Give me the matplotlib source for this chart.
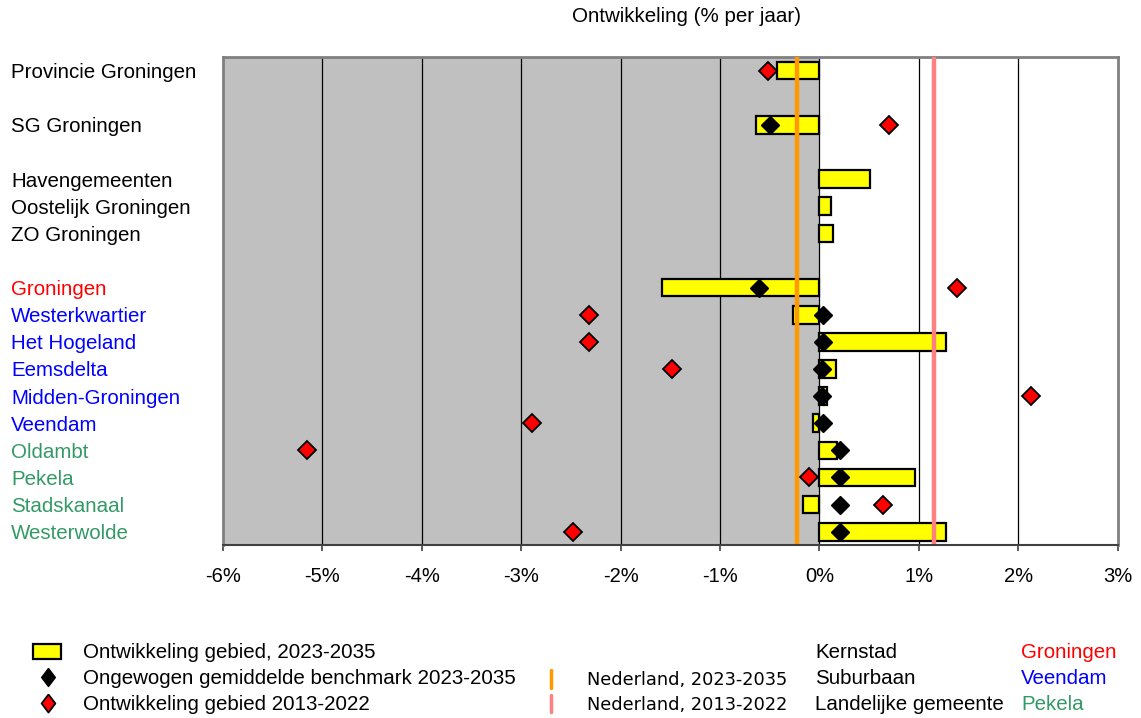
import matplotlib
matplotlib.use('Agg')
import matplotlib.pyplot as plt
import numpy as np
from matplotlib.patches import Rectangle

plt.rcParams['font.family'] = ['Liberation Sans', 'DejaVu Sans']

nan = np.nan
categories = ['Provincie Groningen', '', 'SG Groningen', '', 'Havengemeenten',
              'Oostelijk Groningen', 'ZO Groningen', '', 'Groningen', 'Westerkwartier',
              'Het Hogeland', 'Eemsdelta', 'Midden-Groningen', 'Veendam', 'Oldambt',
              'Pekela', 'Stadskanaal', 'Westerwolde']
category_type = ['total', 'total', 'total', 'total', 'total', 'total', 'total', 'total',
                 'kern', 'sub', 'sub', 'sub', 'sub', 'sub', 'land', 'land', 'land', 'land']
ontw_2023_2035 = [-0.43, nan, -0.64, nan, 0.51, 0.12, 0.14, nan, -1.58, -0.27,
                  1.27, 0.17, 0.08, -0.06, 0.18, 0.96, -0.17, 1.27]
benchmark_2023_2035 = [nan, nan, -0.50, nan, nan, nan, nan, nan, -0.61, 0.04,
                       0.04, 0.03, 0.03, 0.04, 0.21, 0.21, 0.21, 0.21]
ontw_2013_2022 = [-0.52, nan, 0.70, nan, nan, nan, nan, nan, 1.385, -2.32,
                  -2.32, -1.48, 2.13, -2.89, -5.15, -0.10, 0.64, -2.48]
nl_2023_2035 = -0.23
nl_2013_2022 = 1.15
xticks = [-6, -5, -4, -3, -2, -1, 0, 1, 2, 3]

type_colors = {'total': 'black', 'kern': '#FF0000', 'sub': '#0000FF', 'land': '#339966'}

W, H = 1141, 718
fig = plt.figure(figsize=(W / 100, H / 100), dpi=100)
ax = fig.add_axes([222.7 / W, 1 - 545.3 / H, (1117.8 - 222.7) / W, (545.3 - 57) / H])

y = np.arange(len(categories))
ax.axvspan(-6, 0, color='#C0C0C0', zorder=0, lw=0)
for t in xticks[1:-1]:
    ax.axvline(t, color='black', lw=0.9, zorder=1)

ax.barh(y, ontw_2023_2035, height=0.65, color='#FFFF00', edgecolor='black',
        linewidth=1.6, zorder=3)
ax.axvline(nl_2023_2035, color='#FF9900', lw=3.2, zorder=4)
ax.axvline(nl_2013_2022, color='#FF8080', lw=3.2, zorder=4)
ax.plot(benchmark_2023_2035, y, linestyle='none', marker='D', markersize=9.5,
        color='black', markeredgecolor='black', zorder=5)
ax.plot(ontw_2013_2022, y, linestyle='none', marker='D', markersize=8.8,
        markerfacecolor='#FF0000', markeredgecolor='black', markeredgewidth=1.3, zorder=6)

ax.set_xlim(-6, 3)
ax.set_ylim(len(categories) - 0.5, -0.5)
ax.set_xticks(xticks)
ax.set_xticklabels([f'{t}%' for t in xticks], fontsize=14.5)
ax.set_yticks(y)
ax.set_yticklabels(categories, fontsize=14.8)
for lab, ct in zip(ax.get_yticklabels(), category_type):
    lab.set_color(type_colors[ct])
    lab.set_horizontalalignment('left')
ax.tick_params(axis='y', length=0, pad=(222.7 - 11) * 0.72)
ax.tick_params(axis='x', length=4.5, width=1.2, color='#404040', pad=11, direction='out')

for s in ['top', 'right', 'left']:
    ax.spines[s].set_color('#808080')
    ax.spines[s].set_linewidth(2)
ax.spines['bottom'].set_color('#404040')
ax.spines['bottom'].set_linewidth(1.5)
ax.spines['bottom'].set_zorder(7)

fig.text(686 / W, 1 - 17 / H, 'Ontwikkeling (% per jaar)', ha='center', va='center', fontsize=14.8)

# legend drawn in pixel coordinates
lg = fig.add_axes([0, 0, 1, 1], zorder=-1)
lg.set_xlim(0, W)
lg.set_ylim(H, 0)
lg.axis('off')
tall_diamond = [(0, 1), (0.76, 0), (0, -1), (-0.76, 0), (0, 1)]
lg.add_patch(Rectangle((33, 644), 28, 15, facecolor='#FFFF00', edgecolor='black', lw=1.6))
lg.plot([48], [677], marker=tall_diamond, markersize=13, color='black', linestyle='none')
lg.plot([48], [703], marker=tall_diamond, markersize=13, markerfacecolor='#FF0000',
        markeredgecolor='black', markeredgewidth=1.3, linestyle='none')
lg.plot([551, 551], [670, 688], color='#FF9900', lw=2.5, solid_capstyle='round')
lg.plot([551, 551], [695, 712], color='#FF8080', lw=2.5, solid_capstyle='round')
fs = 14.8
lg.text(83, 652, 'Ontwikkeling gebied, 2023-2035', va='center', fontsize=fs)
lg.text(83, 678, 'Ongewogen gemiddelde benchmark 2023-2035', va='center', fontsize=fs)
lg.text(83, 704, 'Ontwikkeling gebied 2013-2022', va='center', fontsize=fs)
lg.text(587, 680, 'Nederland, 2023-2035', va='center', fontsize=12.8, family='DejaVu Sans')
lg.text(587, 705, 'Nederland, 2013-2022', va='center', fontsize=12.8, family='DejaVu Sans')
lg.text(815, 652, 'Kernstad', va='center', fontsize=fs)
lg.text(815, 678, 'Suburbaan', va='center', fontsize=fs)
lg.text(815, 704, 'Landelijke gemeente', va='center', fontsize=fs)
lg.text(1021, 652, 'Groningen', va='center', fontsize=fs, color=type_colors['kern'])
lg.text(1021, 678, 'Veendam', va='center', fontsize=fs, color=type_colors['sub'])
lg.text(1021, 704, 'Pekela', va='center', fontsize=fs, color=type_colors['land'])

fig.savefig('out.png', dpi=100)
